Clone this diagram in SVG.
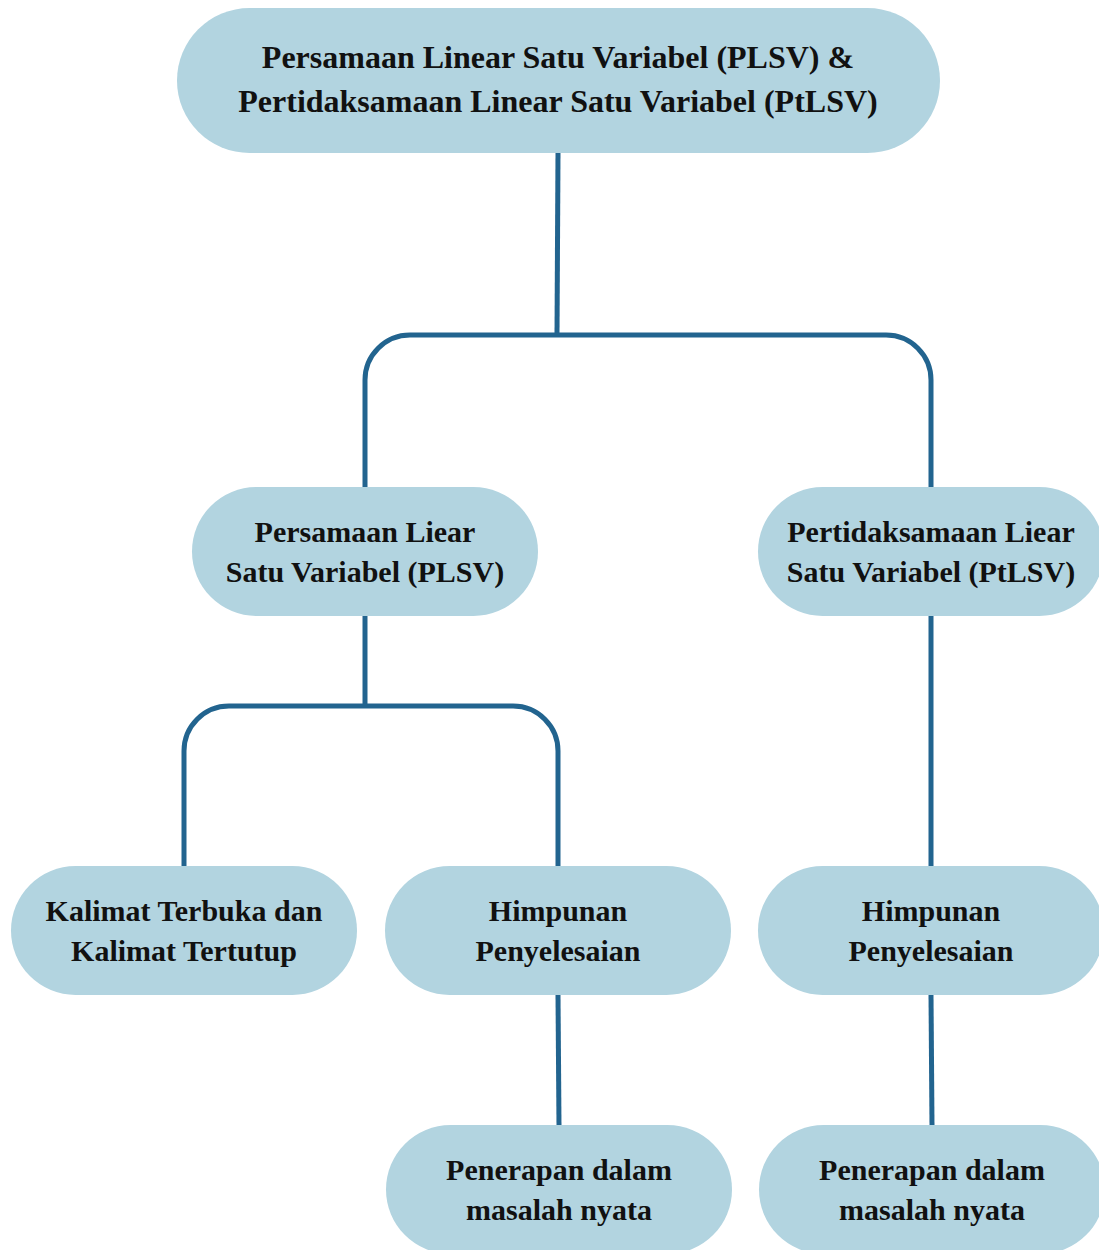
<svg xmlns="http://www.w3.org/2000/svg" width="1099" height="1250" viewBox="0 0 1099 1250">
<style>
.node{fill:#b2d4e0}
.lbl{font-family:"Liberation Serif","DejaVu Serif",serif;font-weight:bold;fill:#111;text-anchor:middle}
.t1{font-size:32px}
.t2{font-size:30px}
.conn{fill:none;stroke:#22648f;stroke-width:5}
</style>
<rect width="1099" height="1250" fill="#fff"/>
<g id="connectors">
<path class="conn" d="M558,153 L557,335"/>
<path class="conn" d="M365,487 L365,380 A45,45 0 0 1 410,335 L886,335 A45,45 0 0 1 931,380 L931,487"/>
<path class="conn" d="M365,616 L365,706"/>
<path class="conn" d="M184,866 L184,751 A45,45 0 0 1 229,706 L513,706 A45,45 0 0 1 558,751 L558,866"/>
<path class="conn" d="M931,616 L931,866"/>
<path class="conn" d="M558,995 L559,1125"/>
<path class="conn" d="M931,995 L932,1125"/>
</g>
<g id="root">
<rect class="node" x="177" y="8" width="763" height="145" rx="72.5"/>
<text class="lbl t1" x="558" y="68">Persamaan Linear Satu Variabel (PLSV) &amp;</text>
<text class="lbl t1" x="558" y="112">Pertidaksamaan Linear Satu Variabel (PtLSV)</text>
</g>
<g id="plsv">
<rect class="node" x="192" y="487" width="346" height="129" rx="64.5"/>
<text class="lbl t2" x="365" y="542">Persamaan Liear</text>
<text class="lbl t2" x="365" y="582">Satu Variabel (PLSV)</text>
</g>
<g id="ptlsv">
<rect class="node" x="758" y="487" width="346" height="129" rx="64.5"/>
<text class="lbl t2" x="931" y="542">Pertidaksamaan Liear</text>
<text class="lbl t2" x="931" y="582">Satu Variabel (PtLSV)</text>
</g>
<g id="kalimat">
<rect class="node" x="11" y="866" width="346" height="129" rx="64.5"/>
<text class="lbl t2" x="184" y="921">Kalimat Terbuka dan</text>
<text class="lbl t2" x="184" y="961">Kalimat Tertutup</text>
</g>
<g id="hp-left">
<rect class="node" x="385" y="866" width="346" height="129" rx="64.5"/>
<text class="lbl t2" x="558" y="921">Himpunan</text>
<text class="lbl t2" x="558" y="961">Penyelesaian</text>
</g>
<g id="hp-right">
<rect class="node" x="758" y="866" width="346" height="129" rx="64.5"/>
<text class="lbl t2" x="931" y="921">Himpunan</text>
<text class="lbl t2" x="931" y="961">Penyelesaian</text>
</g>
<g id="penerapan-left">
<rect class="node" x="386" y="1125" width="346" height="129" rx="64.5"/>
<text class="lbl t2" x="559" y="1180">Penerapan dalam</text>
<text class="lbl t2" x="559" y="1220">masalah nyata</text>
</g>
<g id="penerapan-right">
<rect class="node" x="759" y="1125" width="346" height="129" rx="64.5"/>
<text class="lbl t2" x="932" y="1180">Penerapan dalam</text>
<text class="lbl t2" x="932" y="1220">masalah nyata</text>
</g>
</svg>
